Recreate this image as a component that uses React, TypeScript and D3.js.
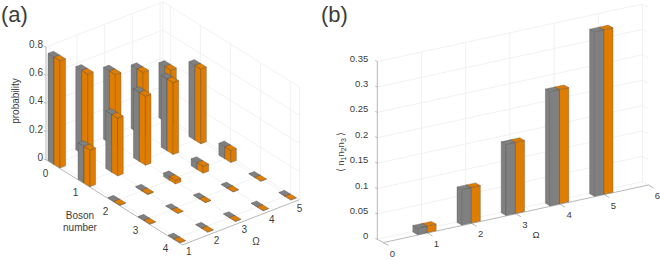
import React from 'react';
import * as d3 from 'd3';

const omegas = [1, 2, 3, 4, 5];
const bosonNumbers = [0, 1, 2, 3, 4];
// probability rows, one per boson number, columns are omega 1..5
const boson0 = [0.76, 0.59, 0.51, 0.45, 0.39];
const boson1 = [0.26, 0.41, 0.49, 0.51, 0.53];
const boson2 = [0.003, 0.006, 0.025, 0.05, 0.085];
const boson3 = [0.001, 0.001, 0.002, 0.002, 0.002];
const boson4 = [0.001, 0.001, 0.001, 0.001, 0.001];
const probRows = [boson0, boson1, boson2, boson3, boson4];
const probTicks = [0, 0.2, 0.4, 0.6, 0.8];

const tripleGray = [0.013, 0.07, 0.14, 0.225, 0.324];
const tripleOrange = [0.013, 0.07, 0.14, 0.225, 0.324];
const tripleTicks = [0, 0.05, 0.1, 0.15, 0.2, 0.25, 0.3, 0.35];
const omegaTicks = [0, 1, 2, 3, 4, 5, 6];

const GRAY = '#808080';
const ORANGE = '#e07d00';
const GRID = '#eeeeee';
const AXIS = '#a6a6a6';
const TEXT = '#3c3c3c';
const FONT = '"Liberation Sans", Arial, sans-serif';

type P = [number, number];
type Proj = (b: number, w: number, z: number) => P;

const makeProj = (bx: any, wx: any, by: any, wy: any, zy: any): Proj => (b, w, z) => [
  bx(b) + wx(w),
  by(b) + wy(w) + zy(z),
];

// one cuboid, three visible faces
const Box = ({ proj, b0, b1, w0, w1, z, fill }: any) => {
  const line = d3.line<P>();
  const poly = (pts: P[]) => line(pts) + 'Z';
  const side = poly([proj(b0, w0, 0), proj(b1, w0, 0), proj(b1, w0, z), proj(b0, w0, z)]);
  const front = poly([proj(b1, w0, 0), proj(b1, w1, 0), proj(b1, w1, z), proj(b1, w0, z)]);
  const top = poly([proj(b0, w0, z), proj(b1, w0, z), proj(b1, w1, z), proj(b0, w1, z)]);
  return (
    <g fill={fill} stroke="#4a4a4a" strokeOpacity={0.55} strokeWidth={0.6} strokeLinejoin="round">
      <path d={side} />
      <path d={front} />
      <path d={top} />
    </g>
  );
};

const Seg = ({ a, b, stroke = GRID, w = 0.8 }: any) => (
  <line x1={a[0]} y1={a[1]} x2={b[0]} y2={b[1]} stroke={stroke} strokeWidth={w} />
);

const Label = ({ x, y, children, size = 10, anchor = 'middle', ...rest }: any) => (
  <text x={x} y={y} fontSize={size} textAnchor={anchor} fill={TEXT} fontFamily={FONT} {...rest}>
    {children}
  </text>
);

const PanelA = () => {
  const bmin = -0.25, bmax = 4.3, wmin = 0.88, wmax = 5.1, zmax = 0.8;
  const proj = makeProj(
    d3.scaleLinear().domain([0, 1]).range([0, 30]),
    d3.scaleLinear().domain([1, 2]).range([56.8, 84.5]),
    d3.scaleLinear().domain([0, 1]).range([0, 18.7]),
    d3.scaleLinear().domain([1, 2]).range([163.2, 152.5]),
    d3.scaleLinear().domain([0, 1]).range([0, -141]),
  );
  const bars: any[] = [];
  bosonNumbers.forEach((b, i) => {
    [...omegas].reverse().forEach((w) => {
      bars.push({ b, w, z: probRows[i][w - 1] });
    });
  });
  return (
    <g>
      {probTicks.slice(1).map((z) => (
        <g key={z}>
          <Seg a={proj(bmin, wmin, z)} b={proj(bmin, wmax, z)} />
          <Seg a={proj(bmin, wmax, z)} b={proj(bmax, wmax, z)} />
        </g>
      ))}
      {omegas.map((w) => (
        <g key={w}>
          <Seg a={proj(bmin, w, 0)} b={proj(bmin, w, zmax)} />
          <Seg a={proj(bmin, w, 0)} b={proj(bmax, w, 0)} />
        </g>
      ))}
      {bosonNumbers.map((b) => (
        <g key={b}>
          <Seg a={proj(b, wmax, 0)} b={proj(b, wmax, zmax)} />
          <Seg a={proj(b, wmin, 0)} b={proj(b, wmax, 0)} />
        </g>
      ))}
      <Seg a={proj(bmin, wmax, 0)} b={proj(bmin, wmax, zmax)} />
      <Seg a={proj(bmin, wmin, 0)} b={proj(bmin, wmax, 0)} />
      <Seg a={proj(bmin, wmax, 0)} b={proj(bmax, wmax, 0)} />
      <Seg a={proj(bmax, wmax, 0)} b={proj(bmax, wmax, zmax)} />

      <Seg a={proj(bmin, wmin, 0)} b={proj(bmin, wmin, zmax)} stroke={AXIS} />
      <Seg a={proj(bmin, wmin, 0)} b={proj(bmax, wmin, 0)} stroke={AXIS} />
      <Seg a={proj(bmax, wmin, 0)} b={proj(bmax, wmax, 0)} stroke={AXIS} />
      {probTicks.map((z) => {
        const p = proj(bmin, wmin, z);
        return (
          <g key={z}>
            <Seg a={p} b={[p[0] - 2, p[1] - 1]} stroke={AXIS} />
            <Label x={p[0] - 3} y={p[1] + 1} anchor="end">{z === 0 ? '0' : z.toFixed(1)}</Label>
          </g>
        );
      })}

      {bars.map(({ b, w, z }) => (
        <g key={`${b}-${w}`}>
          <Box proj={proj} b0={b - 0.2} b1={b} w0={w - 0.1} w1={w + 0.1} z={z} fill={GRAY} />
          <Box proj={proj} b0={b} b1={b + 0.2} w0={w - 0.1} w1={w + 0.1} z={z} fill={ORANGE} />
        </g>
      ))}

      {bosonNumbers.map((b) => {
        const p = proj(b, wmin, 0);
        return <Label key={b} x={p[0] - 8} y={p[1] + 13}>{b}</Label>;
      })}
      {omegas.map((w) => {
        const p = proj(bmax, w, 0);
        return <Label key={w} x={p[0] + 3} y={p[1] + 11}>{w}</Label>;
      })}
      <Label x={256} y={245}>Ω</Label>
      <Label x={80} y={219}>Boson</Label>
      <Label x={80} y={231}>number</Label>
      <Label x={0} y={0} transform="translate(19,101) rotate(-90)">probability</Label>
      <Label x={1} y={22} size={22} anchor="start">(a)</Label>
    </g>
  );
};

const PanelB = () => {
  const bmin = 0, bmax = 1, zmax = 0.35;
  const proj = makeProj(
    d3.scaleLinear().domain([0, 1]).range([0, 6]),
    d3.scaleLinear().domain([0, 6]).range([377.3, 642.5]),
    d3.scaleLinear().domain([0, 1]).range([0, 3.3]),
    d3.scaleLinear().domain([0, 6]).range([239.3, 181.7]),
    d3.scaleLinear().domain([0, 1]).range([0, -507.7]),
  );
  return (
    <g>
      {tripleTicks.slice(1).map((z) => (
        <g key={z}>
          <Seg a={proj(bmin, 0, z)} b={proj(bmin, 6, z)} />
          <Seg a={proj(bmin, 6, z)} b={proj(bmax, 6, z)} />
        </g>
      ))}
      {omegaTicks.slice(1).map((w) => (
        <g key={w}>
          <Seg a={proj(bmin, w, 0)} b={proj(bmin, w, zmax)} />
          <Seg a={proj(bmin, w, 0)} b={proj(bmax, w, 0)} />
        </g>
      ))}
      <Seg a={proj(bmin, 0, 0)} b={proj(bmin, 6, 0)} />
      <Seg a={proj(bmin, 0, 0)} b={proj(bmin, 0, zmax)} stroke={AXIS} />
      <Seg a={proj(bmin, 0, 0)} b={proj(bmax, 0, 0)} stroke={AXIS} />
      <Seg a={proj(bmax, 0, 0)} b={proj(bmax, 6, 0)} stroke={AXIS} />
      {omegaTicks.map((w) => {
        const p = proj(bmax, w, 0);
        return (
          <g key={w}>
            <Seg a={p} b={[p[0] + 5, p[1] + 3]} stroke={AXIS} />
            <Label x={p[0] + 9} y={p[1] + 14} size={9.5}>{w}</Label>
          </g>
        );
      })}
      {tripleTicks.map((z) => {
        const p = proj(bmin, 0, z);
        return (
          <g key={z}>
            <Seg a={p} b={[p[0] - 2, p[1] - 1]} stroke={AXIS} />
            <Label x={p[0] - 9} y={p[1]} size={9.5} anchor="end">{String(z)}</Label>
          </g>
        );
      })}
      {omegas.map((w, i) => (
        <g key={w}>
          {/* orange first so the gray bar's face stays whole */}
          <Box proj={proj} b0={0.1} b1={0.9} w0={w} w1={w + 0.21} z={tripleOrange[i]} fill={ORANGE} />
          <Box proj={proj} b0={0.1} b1={0.9} w0={w - 0.21} w1={w} z={tripleGray[i]} fill={GRAY} />
        </g>
      ))}
      <Label x={536} y={238} size={9.5}>Ω</Label>
      <Label x={0} y={0} size={9.5} transform="translate(344,152) rotate(-90)">
        ⟨ n<tspan fontSize={7} dy={2}>1</tspan>
        <tspan dy={-2}>n</tspan>
        <tspan fontSize={7} dy={2}>2</tspan>
        <tspan dy={-2}>n</tspan>
        <tspan fontSize={7} dy={2}>3</tspan>
        <tspan dy={-2}> ⟩</tspan>
      </Label>
      <Label x={321} y={22} size={22} anchor="start">(b)</Label>
    </g>
  );
};

export default function App() {
  return (
    <svg width={660} height={260} style={{ position: 'absolute', left: 0, top: 0, background: '#fff' }}>
      <PanelA />
      <PanelB />
    </svg>
  );
}
